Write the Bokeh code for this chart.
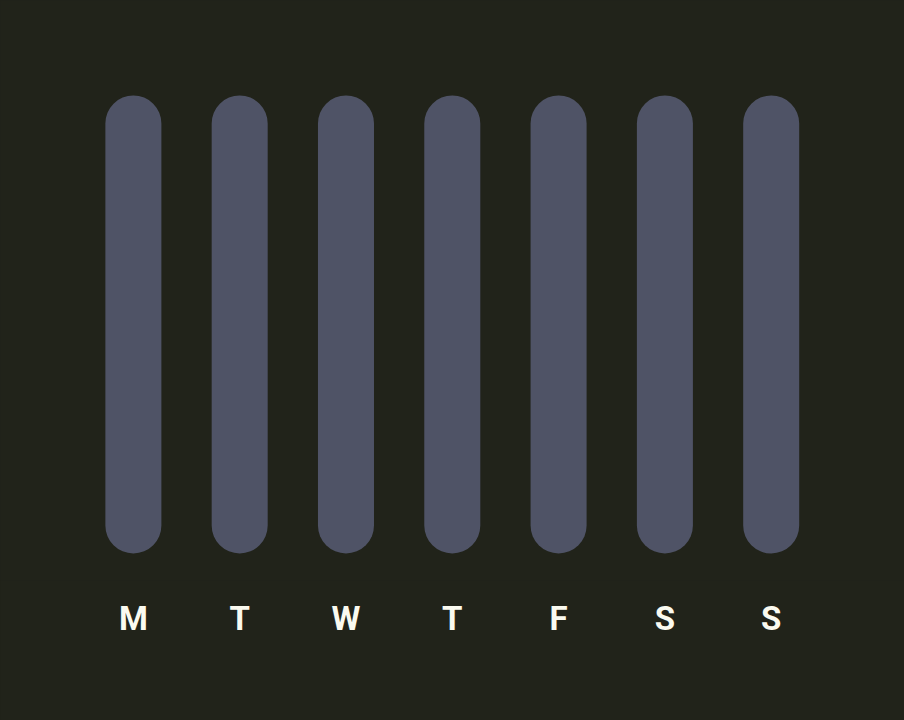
from bokeh.plotting import figure
from bokeh.models import FixedTicker, Range1d, ColumnDataSource
from bokeh.embed import file_html
from bokeh.resources import INLINE

days = ["M", "T", "W", "T", "F", "S", "S"]
positions = [0, 1, 2, 3, 4, 5, 6]
values = [100, 100, 100, 100, 100, 100, 100]

BG = "#21231a"
BAR = "#4f5366"

src = ColumnDataSource(dict(x=positions, top=values, bottom=[0] * len(values)))

p = figure(width=904, height=720, output_backend="svg", toolbar_location=None,
           x_range=Range1d(-1.25, 7.254), y_range=Range1d(-5.9, 120.74),
           min_border_left=0, min_border_right=0, min_border_top=0, min_border_bottom=140,
           background_fill_color=BG, border_fill_color=BG, outline_line_color=None,
           y_axis_location=None)
p.styles = {"background-color": BG}

p.vbar(x="x", top="top", bottom="bottom", width=0.527, source=src,
       fill_color=BAR, line_color=None, border_radius=28)

p.grid.visible = False
ax = p.xaxis[0]
ax.ticker = FixedTicker(ticks=positions)
ax.major_label_overrides = {i: d for i, d in zip(positions, days)}
ax.axis_line_color = None
ax.major_tick_line_color = None
ax.minor_tick_line_color = None
ax.major_tick_out = 0
ax.major_label_standoff = 18
ax.major_label_text_font = "Roboto"
ax.major_label_text_font_style = "bold"
ax.major_label_text_font_size = "33px"
ax.major_label_text_color = "#fafaf0"

open("out.html", "w").write(file_html(p, INLINE))
